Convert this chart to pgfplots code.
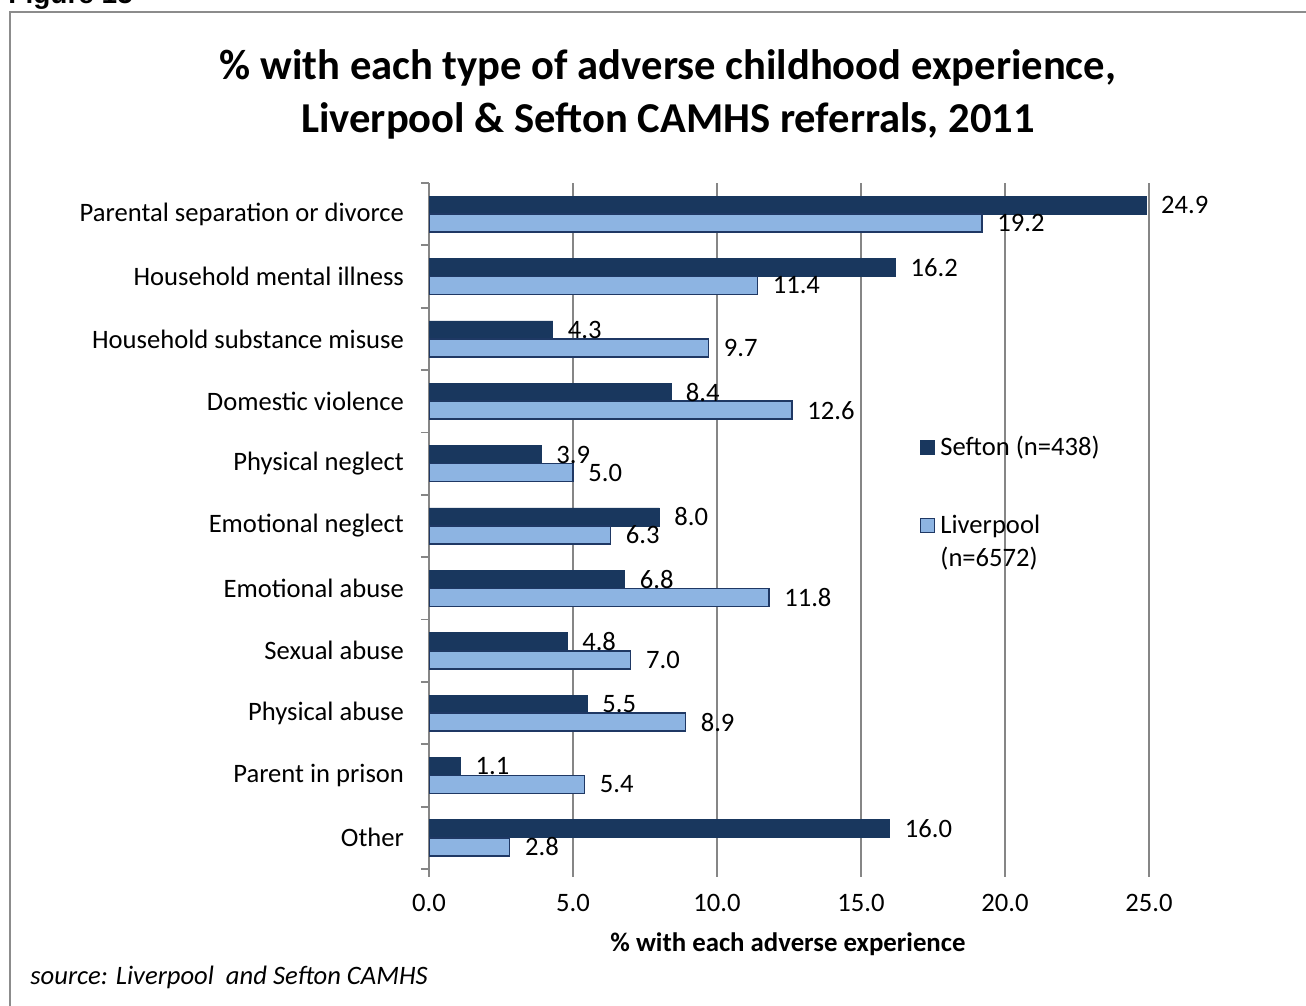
\documentclass[border=0pt]{standalone}
\usepackage{pgfplots}
\pgfplotsset{compat=1.18}
\usepackage{fontspec}
\setmainfont{Carlito}
\newfontfamily\arialfont{Liberation Sans}
\definecolor{sefton}{RGB}{25,55,94}
\definecolor{liver}{RGB}{141,180,226}
\definecolor{liveredge}{RGB}{31,56,100}
\definecolor{gridgray}{RGB}{134,134,134}
\begin{document}
\begin{tikzpicture}[x=1pt,y=1pt]
\path[use as bounding box] (0,0) rectangle (653,503);
\clip (0,0) rectangle (653,503);
\draw[gray!90, line width=0.8pt] (5,-10) rectangle (670,497);
\node[anchor=base west, font=\arialfont\bfseries\fontsize{14}{16}\selectfont, inner sep=0] at (4,501) {Figure 15};
\node[anchor=base, font=\bfseries\fontsize{21.3}{25}\selectfont, inner sep=0] at (334,463) {\% with each type of adverse childhood experience,};
\node[anchor=base, font=\bfseries\fontsize{21.3}{25}\selectfont, inner sep=0] at (334,436.5) {Liverpool \& Sefton CAMHS referrals, 2011};
\node[anchor=base, font=\bfseries\fontsize{13.4}{16}\selectfont, inner sep=0] at (394,27) {\% with each adverse experience};
\node[anchor=base west, font=\itshape\fontsize{13.3}{16}\selectfont, inner sep=0] at (15,10.5) {source: Liverpool\ \ and Sefton CAMHS};
\begin{axis}[
  at={(214.5pt,68.5pt)}, anchor=south west,
  scale only axis, width=360pt, height=343pt,
  xbar, bar width=9pt,
  xmin=0, xmax=25, ymin=-0.5, ymax=10.5,
  /pgf/number format/assume math mode=true,
  xtick={0,5,...,25},
  xticklabel style={/pgf/number format/fixed, /pgf/number format/fixed zerofill, /pgf/number format/precision=1},
  ytick={0,...,10},
  yticklabels={Other\hspace{3pt}, Parent in prison, Physical abuse, Sexual abuse, Emotional abuse, Emotional neglect, Physical neglect, Domestic violence, Household substance misuse, Household mental illness, Parental separation or divorce},
  minor ytick={-0.5,0.5,...,10.5},
  axis lines*=left,
  axis line style={-},
  x axis line style={draw=none},
  y axis line style={gridgray, line width=0.9pt},
  tick align=outside,
  major tick length=4pt,
  minor tick length=4pt,
  tick style={gridgray, line width=0.9pt},
  every major y tick/.style={draw=none},
  xmajorgrids,
  major grid style={gridgray, line width=0.9pt},
  tick label style={font=\fontsize{13.3}{16}\selectfont},
  yticklabel style={xshift=-5pt},
  xticklabel style={yshift=-5pt},
  point meta=x,
  nodes near coords={\pgfmathprintnumber[fixed,fixed zerofill,precision=1]{\pgfplotspointmeta}},
  nodes near coords align={horizontal},
  every node near coord/.append style={font=\fontsize{13.3}{16}\selectfont, xshift=4pt, black},
  legend style={at={(0.682,0.637)}, anchor=north west, draw=none, fill=none,
    font=\fontsize{13.3}{16.5}\selectfont, row sep=24pt, inner sep=0pt,
    cells={anchor=base west, align=left}},
  legend image code/.code={\path[draw=none,fill=none] (0pt,0pt) rectangle (8pt,0pt);\draw[fill=sefton, draw=sefton, overlay] (0pt,0.5pt) rectangle (7pt,7.5pt);},
]
\addplot[fill=sefton, draw=sefton, bar shift=4.5pt] coordinates {
 (16.0,0) (1.1,1) (5.5,2) (4.8,3) (6.8,4) (8.0,5) (3.9,6) (8.4,7) (4.3,8) (16.2,9) (24.9,10)};
\addlegendentry{Sefton (n=438)}
\addplot[fill=liver, draw=liveredge, line width=0.8pt, bar shift=-4.5pt,
  legend image code/.code={\path[draw=none,fill=none] (0pt,0pt) rectangle (8pt,0pt);\draw[fill=liver, draw=liveredge, line width=0.8pt, overlay] (0pt,17pt) rectangle (7pt,24pt);}] coordinates {
 (2.8,0) (5.4,1) (8.9,2) (7.0,3) (11.8,4) (6.3,5) (5.0,6) (12.6,7) (9.7,8) (11.4,9) (19.2,10)};
\addlegendentry{Liverpool\\(n=6572)}
\end{axis}
\end{tikzpicture}
\end{document}
